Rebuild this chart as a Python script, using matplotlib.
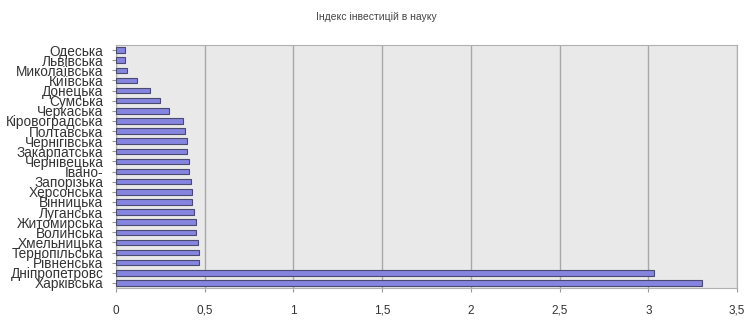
import matplotlib.pyplot as plt
from matplotlib.ticker import FuncFormatter

regions = [
    'Одеська', 'Львівська', 'Миколаївська', 'Київська', 'Донецька',
    'Сумська', 'Черкаська', 'Кіровоградська', 'Полтавська', 'Чернігівська',
    'Закарпатська', 'Чернівецька', 'Івано-', 'Запорізька', 'Херсонська',
    'Вінницька', 'Луганська', 'Житомирська', 'Волинська', 'Хмельницька',
    'Тернопільська', 'Рівненська', 'Дніпропетровс', 'Харківська',
]
index_values = [
    0.05, 0.05, 0.06, 0.12, 0.19,
    0.25, 0.30, 0.38, 0.39, 0.40,
    0.40, 0.41, 0.41, 0.42, 0.43,
    0.43, 0.44, 0.45, 0.45, 0.46,
    0.47, 0.47, 3.03, 3.30,
]
x_ticks = [0, 0.5, 1, 1.5, 2, 2.5, 3, 3.5]

plt.rcParams['font.family'] = ['Liberation Sans Narrow', 'Liberation Sans', 'DejaVu Sans']

fig = plt.figure(figsize=(7.47, 3.24), dpi=100)
ax = fig.add_axes([116 / 747, 1 - 288 / 324, (737 - 116) / 747, (288 - 45) / 324])
ax.set_facecolor('#e9e9e9')

pos = range(len(regions))
ax.barh(pos, index_values, height=0.55, color='#8585e0',
        edgecolor='#4a4a70', linewidth=0.8, zorder=3)

ax.set_ylim(len(regions) - 0.5, -0.5)
ax.set_yticks(list(pos))
ax.set_yticklabels(regions, fontsize=9.8, color='#333333')

ax.set_xlim(0, 3.5)
ax.set_xticks(x_ticks)
ax.xaxis.set_major_formatter(FuncFormatter(lambda v, p: ('%g' % v).replace('.', ',')))
ax.tick_params(axis='x', labelsize=8.5, colors='#333333', length=3, pad=9)
ax.tick_params(axis='y', length=3, pad=6, color='#999999')
ax.tick_params(axis='x', color='#999999')

ax.grid(axis='x', color='#a8a8a8', linewidth=1.0, zorder=0)
for s in ax.spines.values():
    s.set_color('#b0b0b0')

fig.text(376 / 747, 1 - 17 / 324, 'Індекс інвестицій в науку',
         ha='center', va='center', fontsize=7.5, color='#444444',
         family=['Liberation Sans', 'DejaVu Sans'])

fig.savefig('out.png', dpi=100)
